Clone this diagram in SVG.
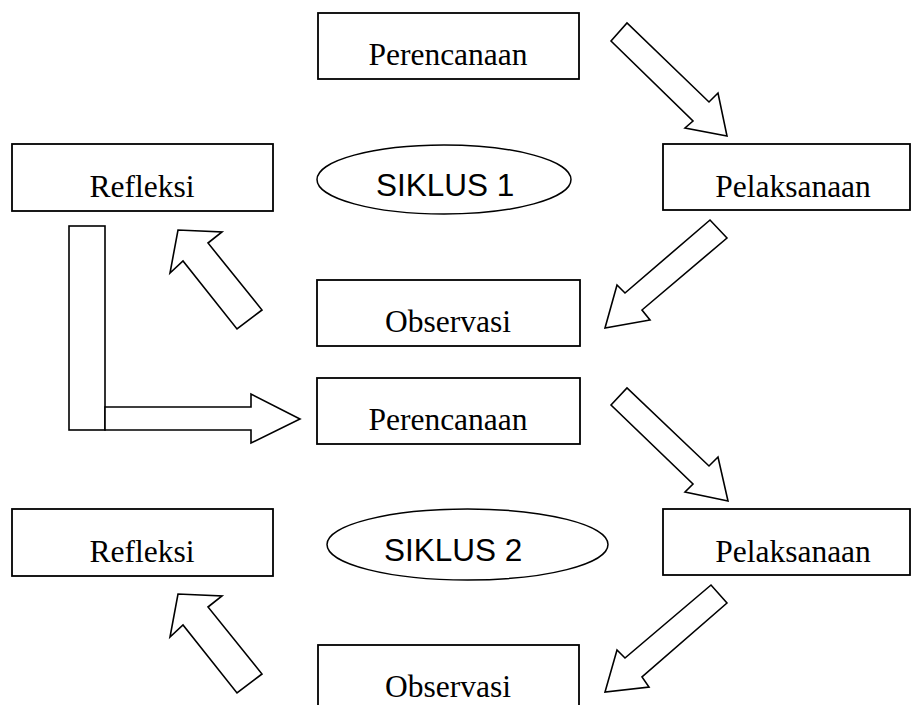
<svg xmlns="http://www.w3.org/2000/svg" width="912" height="705" viewBox="0 0 912 705">
<style>
.box{fill:#fff;stroke:#000;stroke-width:1.8}
.ell{fill:#fff;stroke:#000;stroke-width:1.5}
.arr{fill:#fff;stroke:#000;stroke-width:1.6;stroke-linejoin:miter}
.t{font-family:"Liberation Serif","Times New Roman",serif;font-size:31.5px;fill:#000;text-anchor:middle}
.s{font-family:"Liberation Sans",Arial,sans-serif;font-size:31.5px;fill:#000}
</style>
<rect width="912" height="705" fill="#fff"/>
<g id="connectors">
<polygon class="arr" points="611,41 627,23 709,102 718,93 727,136 685,128 693,121"/>
<polygon class="arr" points="727,238 710,220 625,293 617,285 605,328 650,320 642,310"/>
<polygon class="arr" points="262,310 237,329 183,261 170,273 178,230 222,232 208,243"/>
<rect class="arr" x="69" y="226" width="36" height="204"/>
<polygon class="arr" points="105,407 251,407 251,394 300,419 251,443 251,430 105,430"/>
<polygon class="arr" points="611,405 627,388 709,466 718,457 728,501 685,492 693,484"/>
<polygon class="arr" points="727,603 711,585 625,658 617,650 605,692 649,687 642,677"/>
<polygon class="arr" points="262,674 237,693 183,625 170,637 178,594 222,596 208,607"/>
</g>
<g id="perencanaan1"><rect class="box" x="318" y="13" width="261" height="66"/><text class="t" x="448" y="65">Perencanaan</text></g>
<g id="refleksi1"><rect class="box" x="12" y="144" width="261" height="67"/><text class="t" x="142" y="197">Refleksi</text></g>
<g id="siklus1"><ellipse class="ell" cx="444" cy="179.5" rx="127" ry="34.5"/><text class="s" x="376" y="196">SIKLUS 1</text></g>
<g id="pelaksanaan1"><rect class="box" x="663" y="144" width="247" height="66"/><text class="t" x="793" y="197">Pelaksanaan</text></g>
<g id="observasi1"><rect class="box" x="317" y="280" width="263" height="66"/><text class="t" x="448" y="332">Observasi</text></g>
<g id="perencanaan2"><rect class="box" x="317" y="378" width="263" height="66"/><text class="t" x="448" y="430">Perencanaan</text></g>
<g id="refleksi2"><rect class="box" x="12" y="509" width="261" height="67"/><text class="t" x="142" y="562">Refleksi</text></g>
<g id="siklus2"><ellipse class="ell" cx="467.5" cy="544.5" rx="140.5" ry="35.5"/><text class="s" x="384" y="561">SIKLUS 2</text></g>
<g id="pelaksanaan2"><rect class="box" x="663" y="509" width="247" height="66"/><text class="t" x="793" y="562">Pelaksanaan</text></g>
<g id="observasi2"><rect class="box" x="318" y="645" width="261" height="70"/><text class="t" x="448" y="697">Observasi</text></g>
</svg>
